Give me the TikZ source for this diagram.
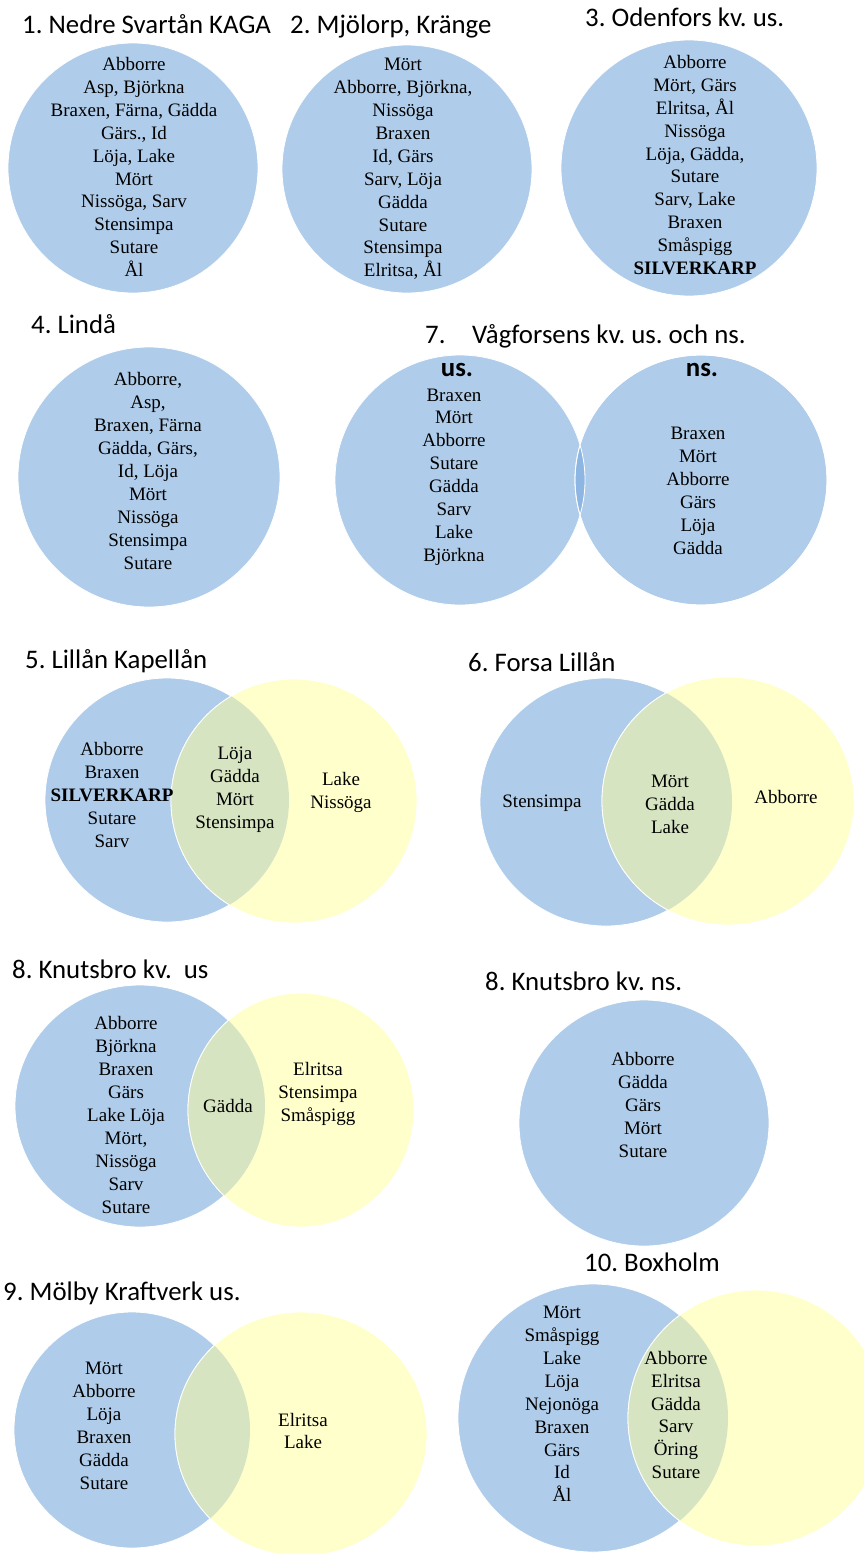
\documentclass[tikz,border=0pt]{standalone}
\usepackage{fontspec}
\setmainfont{Liberation Serif}
\newfontfamily\titlefont{Carlito}
\definecolor{setblue}{RGB}{175,205,234}
\definecolor{setyellow}{RGB}{255,255,204}
\definecolor{setgreen}{RGB}{214,228,194}
\definecolor{lensblue}{RGB}{141,183,226}
\frenchspacing

\begin{document}
\begin{tikzpicture}[x=1pt,y=-1pt]
    \tikzstyle{blue set}=[fill=setblue,draw=white,line width=0.8pt]
    \tikzstyle{yellow set}=[fill=setyellow,draw=white,line width=0.8pt]
    \tikzstyle{title}=[anchor=base west,inner sep=0pt,font=\titlefont\fontsize{26.8}{32}\selectfont]
    \tikzstyle{side}=[inner sep=0pt,font=\titlefont\bfseries\fontsize{26.8}{32}\selectfont]
    \tikzstyle{fish}=[align=center,inner sep=0pt,font=\fontsize{19}{22.9}\selectfont]

    \useasboundingbox (0,0) rectangle (863,1553);

    % Draw the single sets
    \foreach \cx/\cy/\rx/\ry in {133/168/125/125, 407/169/125/124, 689/168/128/128,
                                 149/477/131/130, 644/1123/125/123}
        \path[blue set] (\cx,\cy) ellipse [x radius=\rx pt, y radius=\ry pt];

    % Draw the two blue sets of Vagforsen, with their small lens
    \path[blue set] (460,480) ellipse [x radius=125pt, y radius=125pt];
    \begin{scope}
        \clip (460,480) ellipse [x radius=125pt, y radius=125pt];
        \fill[lensblue] (701,480) ellipse [x radius=126pt, y radius=125pt];
    \end{scope}
    \path[draw=white,line width=0.8pt,fill=setblue,even odd rule]
        (701,480) ellipse [x radius=126pt, y radius=125pt]
        (460,480) ellipse [x radius=125pt, y radius=125pt];
    \draw[white,line width=0.8pt] (701,480) ellipse [x radius=126pt, y radius=125pt];

    % Draw the blue / yellow pairs, the overlap in green
    \foreach \bx/\by/\brx/\bry/\yx/\yy/\yrx/\yry in {
            167/800/122/122/294/801/123/122,
            606/802/126/124/728/801/126/124,
            140/1106/125/121/301/1110/113/117,
            132/1430/118/118/301/1434/126/122,
            593/1418/135/134/756/1418/128/128}{
        \path[blue set] (\bx,\by) ellipse [x radius=\brx pt, y radius=\bry pt];
        \path[yellow set] (\yx,\yy) ellipse [x radius=\yrx pt, y radius=\yry pt];
        \begin{scope}
            \clip (\bx,\by) ellipse [x radius=\brx pt, y radius=\bry pt];
            \path[fill=setgreen,draw=white,line width=0.8pt] (\yx,\yy) ellipse [x radius=\yrx pt, y radius=\yry pt];
        \end{scope}
    }

    % Titles
    \node[title] (T1) at (22,33) {1. Nedre Svartån KAGA};
    \node[title] (T2) at (290,33) {2. Mjölorp, Kränge};
    \node[title] (T3) at (585,26) {3. Odenfors kv. us.};
    \node[title] (T4) at (31,333) {4. Lindå};
    \node[title] (T7) at (425,343) {7.};
    \node[title] (T7b) at (472,343) {Vågforsens kv. us. och ns.};
    \node[title] (T5) at (25,668) {5. Lillån Kapellån};
    \node[title] (T6) at (468,671) {6. Forsa Lillån};
    \node[title] (T8) at (12,978) {8. Knutsbro kv.~~us};
    \node[title] (T8b) at (485,990) {8. Knutsbro kv. ns.};
    \node[title] (T10) at (584,1271) {10. Boxholm};
    \node[title] (T9) at (3,1300) {9. Mölby Kraftverk us.};

    % Species lists
    \node[fish] (F1) at (134,167) {Abborre\\Asp, Björkna\\Braxen, Färna, Gädda\\Gärs., Id\\Löja, Lake\\Mört\\Nissöga, Sarv\\Stensimpa\\Sutare\\Ål};
    \node[fish] (F2) at (403,169) {Mört\\Abborre, Björkna,\\Nissöga\\Braxen\\Id, Gärs\\Sarv, Löja\\Gädda\\Sutare\\Stensimpa\\Elritsa, Ål};
    \node[fish] (F3) at (695,165) {Abborre\\Mört, Gärs\\Elritsa, Ål\\Nissöga\\Löja, Gädda,\\Sutare\\Sarv, Lake\\Braxen\\Småspigg\\\textbf{SILVERKARP}};
    \node[fish] (F4) at (148,471) {Abborre,\\Asp,\\Braxen, Färna\\Gädda, Gärs,\\Id, Löja\\Mört\\Nissöga\\Stensimpa\\Sutare};

    \node[side] (US7) at (457,370) {us.};
    \node[side] (NS7) at (702,370) {ns.};
    \node[fish] (F7u) at (454,477) {Braxen\\Mört\\Abborre\\Sutare\\Gädda\\Sarv\\Lake\\Björkna};
    \node[fish] (F7n) at (698,491) {Braxen\\Mört\\Abborre\\Gärs\\Löja\\Gädda};

    \node[fish] (F5l) at (112,795) {Abborre\\Braxen\\\textbf{SILVERKARP}\\Sutare\\Sarv};
    \node[fish] (F5m) at (235,790) {Löja\\Gädda\\Mört\\Stensimpa};
    \node[fish] (F5r) at (341,792) {Lake\\Nissöga};

    \node[fish] (F6l) at (542,803) {Stensimpa};
    \node[fish] (F6m) at (670,804) {Mört\\Gädda\\Lake};
    \node[fish] (F6r) at (786,797) {Abborre};

    \node[fish] (F8l) at (126,1115) {Abborre\\Björkna\\Braxen\\Gärs\\Lake Löja\\Mört,\\Nissöga\\Sarv\\Sutare};
    \node[fish] (F8m) at (228,1106) {Gädda};
    \node[fish] (F8r) at (318,1094) {Elritsa\\Stensimpa\\Småspigg};
    \node[fish] (F8n) at (643,1105) {Abborre\\Gädda\\Gärs\\Mört\\Sutare};

    \node[fish] (F9l) at (104,1426) {Mört\\Abborre\\Löja\\Braxen\\Gädda\\Sutare};
    \node[fish] (F9r) at (303,1431) {Elritsa\\Lake};

    \node[fish] (F10l) at (562,1404) {Mört\\Småspigg\\Lake\\Löja\\Nejonöga\\Braxen\\Gärs\\Id\\Ål};
    \node[fish] (F10m) at (676,1415) {Abborre\\Elritsa\\Gädda\\Sarv\\Öring\\Sutare};
\end{tikzpicture}
\end{document}
